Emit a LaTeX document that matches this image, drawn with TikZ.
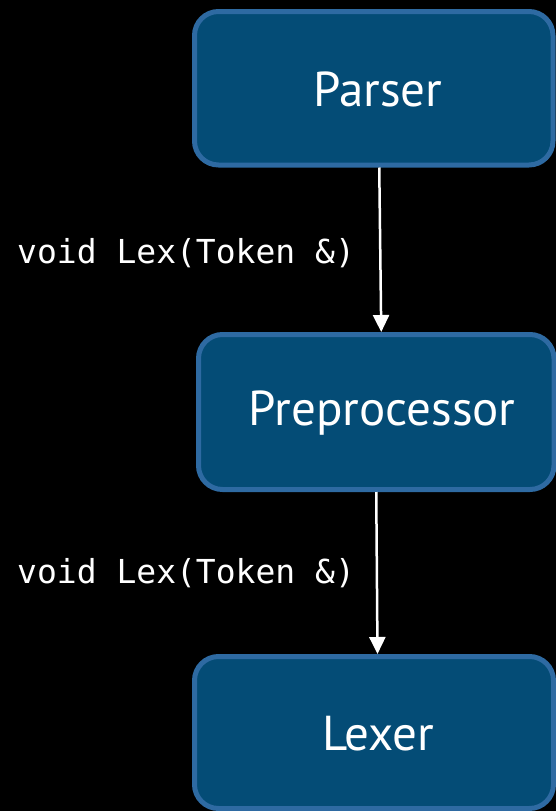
\documentclass[tikz,border=0pt]{standalone}
\usepackage{fontspec}
\setsansfont{PT Sans}
\setmonofont{DejaVu Sans Mono}
\usetikzlibrary{arrows.meta}
\definecolor{boxfill}{HTML}{044C76}
\definecolor{boxedge}{HTML}{2E6AA2}
\tikzset{
  stage/.style={draw=boxedge, fill=boxfill, line width=5pt, rounded corners=24pt,
    inner sep=0pt},
  stagetext/.style={text=white, inner sep=0pt,
    font=\sffamily\fontsize{49}{52}\selectfont},
  call/.style={text=white, anchor=base west, inner sep=0pt,
    font=\ttfamily\fontsize{33}{36}\selectfont},
  flow/.style={draw=white, line width=2.5pt,
    -{Triangle[length=17pt,width=16pt]}}
}
\begin{document}
\begin{tikzpicture}[x=1pt,y=-1pt]
  \fill[black] (0,0) rectangle (556,811);
  \useasboundingbox (0,0) rectangle (556,811);
  \node[stage, minimum width=358.5pt, minimum height=153.5pt,
    label={[stagetext, xshift=4pt, yshift=-1pt]center:Parser}] (parser) at (373.75,88.25) {};
  \node[stage, minimum width=355.5pt, minimum height=155pt,
    label={[stagetext, xshift=6pt, yshift=-1pt]center:Preprocessor}] (prep) at (376.25,412) {};
  \node[stage, minimum width=359pt, minimum height=152pt,
    label={[stagetext, xshift=4pt, yshift=-1pt]center:Lexer}] (lexer) at (374,732.5) {};
  \draw[flow] ([xshift=5.5pt]parser.south) -- ([xshift=5pt]prep.north);
  \draw[flow] (prep.south) -- ([xshift=3.5pt]lexer.north);
  \node[call] (c1) at (17,263) {void Lex(Token \&)};
  \node[call] (c2) at (17,583) {void Lex(Token \&)};
\end{tikzpicture}
\end{document}
